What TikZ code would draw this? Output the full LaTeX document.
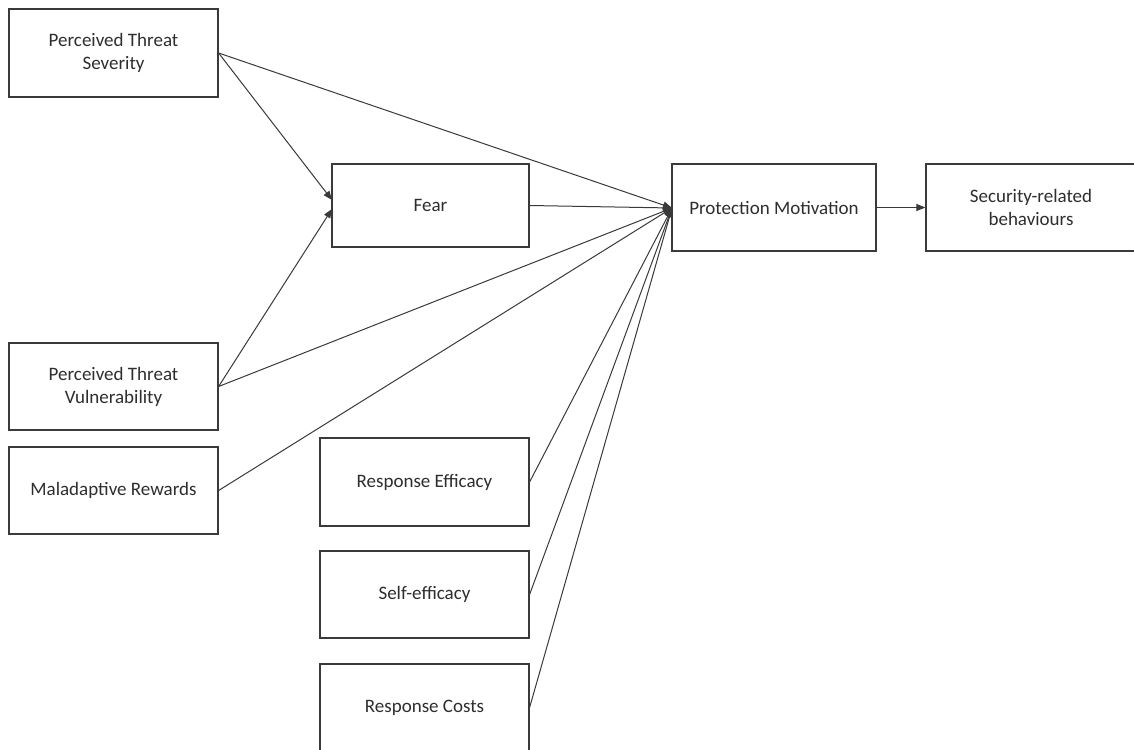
\documentclass[tikz,border=0pt]{standalone}
\usepackage{fontspec}
\setmainfont{Carlito}
\usetikzlibrary{arrows.meta}
\definecolor{linec}{HTML}{3A3A3A}
\definecolor{textc}{HTML}{2E2E2E}
\begin{document}
\begin{tikzpicture}[x=1pt,y=-1pt,
  box/.style={draw=linec,line width=1.2pt,rectangle,inner sep=0pt,align=center,
    text=textc,font=\fontsize{19}{23}\selectfont},
  conn/.style={draw=linec,line width=1pt,-{Triangle[length=9pt,width=7pt]}}]
\useasboundingbox[fill=white] (0,0) rectangle (1134,749);
\node[box,minimum width=209pt,minimum height=88pt] (pts) at (113.5,53) {Perceived Threat\\Severity};
\node[box,minimum width=197pt,minimum height=83pt] (fear) at (430.5,205.5) {Fear};
\node[box,minimum width=204pt,minimum height=87pt] (pm) at (774,207.5) {Protection Motivation};
\node[box,minimum width=210pt,minimum height=87pt] (srb) at (1031,207.5) {Security-related\\behaviours};
\node[box,minimum width=209pt,minimum height=87pt] (ptv) at (113.5,386.5) {Perceived Threat\\Vulnerability};
\node[box,minimum width=209pt,minimum height=87pt] (mr) at (113.5,490.5) {Maladaptive Rewards};
\node[box,minimum width=209pt,minimum height=88pt] (re) at (424.5,482) {Response Efficacy};
\node[box,minimum width=209pt,minimum height=87pt] (se) at (424.5,594.5) {Self-efficacy};
\node[box,minimum width=209pt,minimum height=87pt] (rc) at (424.5,707.5) {Response Costs};
\coordinate (f1) at (332,200);
\coordinate (f2) at (332,209);
\coordinate (pmin) at (672,208);
\draw[conn] (pts.east) -- (f1);
\draw[conn] (ptv.east) -- (f2);
\draw[conn] (pts.east) -- (pmin);
\draw[conn] (fear.east) -- (pmin);
\draw[conn] (ptv.east) -- (pmin);
\draw[conn] (mr.east) -- (pmin);
\draw[conn] (re.east) -- (pmin);
\draw[conn] (se.east) -- (pmin);
\draw[conn] (rc.east) -- (pmin);
\draw[conn] (pm.east) -- (srb.west);
\end{tikzpicture}
\end{document}
